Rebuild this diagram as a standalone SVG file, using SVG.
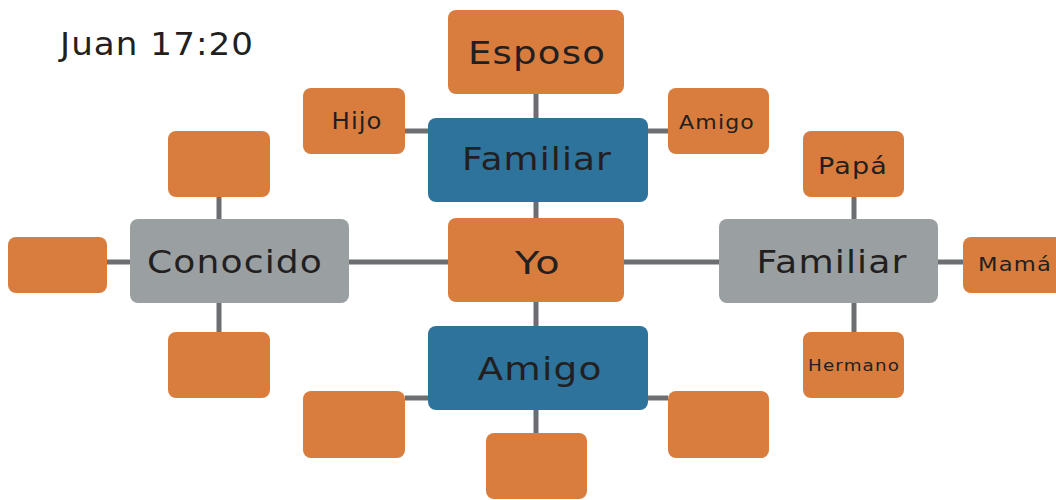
<svg xmlns="http://www.w3.org/2000/svg" width="1056" height="500" viewBox="0 0 1056 500">
<style>
.o{fill:#D87D3E}
.b{fill:#2E739C}
.g{fill:#9AA0A2}
.t{font-family:"DejaVu Sans","Open Sans",sans-serif;fill:#231F20;text-anchor:middle;letter-spacing:1px}
.L{font-size:32px}
.M{font-size:23px}
.S{font-size:19px}
.c{stroke:#6D6E72;stroke-width:5;fill:none}
</style>
<rect width="1056" height="500" fill="#FFFFFF"/>
<text class="t L" x="157" y="55" textLength="194" lengthAdjust="spacingAndGlyphs">Juan 17:20</text>
<g id="connectors" class="c">
<line x1="107" y1="262" x2="963" y2="262"/>
<line x1="536" y1="94" x2="536" y2="433"/>
<line x1="405" y1="131" x2="428" y2="131"/>
<line x1="648" y1="131" x2="668" y2="131"/>
<line x1="405" y1="398" x2="428" y2="398"/>
<line x1="648" y1="398" x2="668" y2="398"/>
<line x1="219" y1="197" x2="219" y2="332"/>
<line x1="854" y1="197" x2="854" y2="332"/>
</g>
<g id="esposo"><rect class="o" x="448" y="10" width="176" height="84" rx="8"/><text class="t L" x="537" y="64" textLength="138" lengthAdjust="spacingAndGlyphs">Esposo</text></g>
<g id="familiar-top"><rect class="b" x="428" y="118" width="220" height="84" rx="8"/><text class="t L" x="537" y="170" textLength="150" lengthAdjust="spacingAndGlyphs">Familiar</text></g>
<g id="hijo"><rect class="o" x="303" y="88" width="102" height="66" rx="8"/><text class="t M" x="357" y="129" textLength="51" lengthAdjust="spacingAndGlyphs">Hijo</text></g>
<g id="amigo-small"><rect class="o" x="668" y="88" width="101" height="66" rx="8"/><text class="t S" x="717" y="129" textLength="76" lengthAdjust="spacingAndGlyphs">Amigo</text></g>
<g id="yo"><rect class="o" x="448" y="218" width="176" height="84" rx="8"/><text class="t L" x="538" y="274" textLength="46" lengthAdjust="spacingAndGlyphs">Yo</text></g>
<g id="amigo"><rect class="b" x="428" y="326" width="220" height="84" rx="8"/><text class="t L" x="540" y="380" textLength="125" lengthAdjust="spacingAndGlyphs">Amigo</text></g>
<g id="conocido"><rect class="g" x="130" y="219" width="219" height="84" rx="8"/><text class="t L" x="235" y="273" textLength="176" lengthAdjust="spacingAndGlyphs">Conocido</text></g>
<g id="familiar-right"><rect class="g" x="719" y="219" width="219" height="84" rx="8"/><text class="t L" x="832" y="273" textLength="151" lengthAdjust="spacingAndGlyphs">Familiar</text></g>
<g id="papa"><rect class="o" x="803" y="131" width="101" height="66" rx="8"/><text class="t M" x="853" y="174" textLength="70" lengthAdjust="spacingAndGlyphs">Papá</text></g>
<g id="hermano"><rect class="o" x="803" y="332" width="101" height="66" rx="8"/><text class="t" x="854" y="371" textLength="92" lengthAdjust="spacingAndGlyphs" style="font-size:16px">Hermano</text></g>
<g id="mama"><rect class="o" x="963" y="237" width="101" height="56" rx="8"/><text class="t S" x="1015" y="271" textLength="74" lengthAdjust="spacingAndGlyphs">Mamá</text></g>
<g id="conocido-top"><rect class="o" x="168" y="131" width="102" height="66" rx="8"/></g>
<g id="conocido-left"><rect class="o" x="8" y="237" width="99" height="56" rx="8"/></g>
<g id="conocido-bottom"><rect class="o" x="168" y="332" width="102" height="66" rx="8"/></g>
<g id="amigo-left"><rect class="o" x="303" y="391" width="102" height="67" rx="8"/></g>
<g id="amigo-bottom"><rect class="o" x="486" y="433" width="101" height="66" rx="8"/></g>
<g id="amigo-right"><rect class="o" x="668" y="391" width="101" height="67" rx="8"/></g>
</svg>
